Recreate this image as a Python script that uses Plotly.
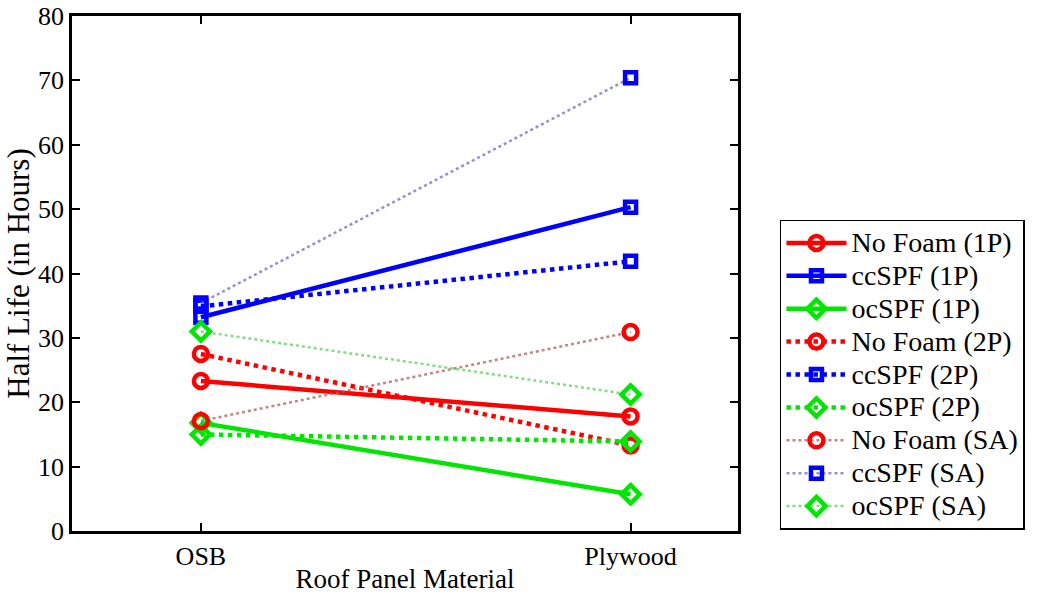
import plotly.graph_objects as go

materials = ["OSB", "Plywood"]
x_pos = [1, 2]

names = ["No Foam (1P)", "ccSPF (1P)", "ocSPF (1P)",
         "No Foam (2P)", "ccSPF (2P)", "ocSPF (2P)",
         "No Foam (SA)", "ccSPF (SA)", "ocSPF (SA)"]

nofoam_1p = [23.3, 17.8]
ccspf_1p = [33.2, 50.3]
ocspf_1p = [16.8, 5.7]
nofoam_2p = [27.5, 13.3]
ccspf_2p = [34.9, 41.9]
ocspf_2p = [15.0, 13.9]
nofoam_sa = [17.1, 30.9]
ccspf_sa = [35.4, 70.4]
ocspf_sa = [31.0, 21.2]

series = [nofoam_1p, ccspf_1p, ocspf_1p, nofoam_2p, ccspf_2p, ocspf_2p,
          nofoam_sa, ccspf_sa, ocspf_sa]

base_colors = ["#ff0000", "#0000ff", "#00e600"]
sa_line_colors = ["rgba(180,90,90,0.75)", "rgba(110,110,190,0.75)", "rgba(90,210,90,0.75)"]
symbols = ["circle-open", "square-open", "diamond-open"]

fig = go.Figure()
for i, (name, vals) in enumerate(zip(names, series)):
    k = i % 3
    grp = i // 3
    if grp == 0:
        line = dict(color=base_colors[k], width=4.5)
    elif grp == 1:
        line = dict(color=base_colors[k], width=4.5, dash="dot")
    else:
        line = dict(color=sa_line_colors[k], width=2.5, dash="dot")
    fig.add_trace(go.Scatter(
        x=x_pos, y=vals,
        name="<span style='font-size:28px'>" + name + "</span>",
        mode="lines+markers",
        line=line,
        marker=dict(symbol=symbols[k], size=14 if k != 1 else 11,
                    color=base_colors[k],
                    line=dict(color=base_colors[k], width=4.5)),
    ))

ff = "Times New Roman, Liberation Serif, serif"
tf = dict(family=ff, size=26, color="black")
fig.update_layout(
    width=1037, height=596,
    margin=dict(l=72, r=296, t=16, b=65),
    plot_bgcolor="white", paper_bgcolor="white",
    font=dict(family=ff, size=26, color="black"),
    xaxis=dict(range=[0.7, 2.25], tickvals=x_pos, ticktext=materials,
               tickfont=tf, ticklabeloverflow="allow",
               showline=True, linecolor="black", linewidth=2.5, mirror="ticks",
               ticks="inside", ticklen=8, tickwidth=2, tickcolor="black",
               showgrid=False, zeroline=False, automargin=False,
               title=dict(text="Roof Panel Material",
                          font=dict(family=ff, size=27, color="black"), standoff=0)),
    yaxis=dict(range=[0, 80], tickvals=[0, 10, 20, 30, 40, 50, 60, 70, 80],
               tickfont=tf, ticklabeloverflow="allow",
               showline=True, linecolor="black", linewidth=2.5, mirror="ticks",
               ticks="inside", ticklen=8, tickwidth=2, tickcolor="black",
               showgrid=False, zeroline=False, automargin=False,
               title=dict(text="Half Life (in Hours)",
                          font=dict(family=ff, size=31, color="black"), standoff=0)),
    legend=dict(x=1.063, y=0.002, xanchor="left", yanchor="bottom",
                bordercolor="black", borderwidth=1.5, bgcolor="white",
                font=dict(family=ff, size=23, color="black"),
                itemwidth=60, tracegroupgap=0),
    showlegend=True,
)

fig.write_html("out.html")
